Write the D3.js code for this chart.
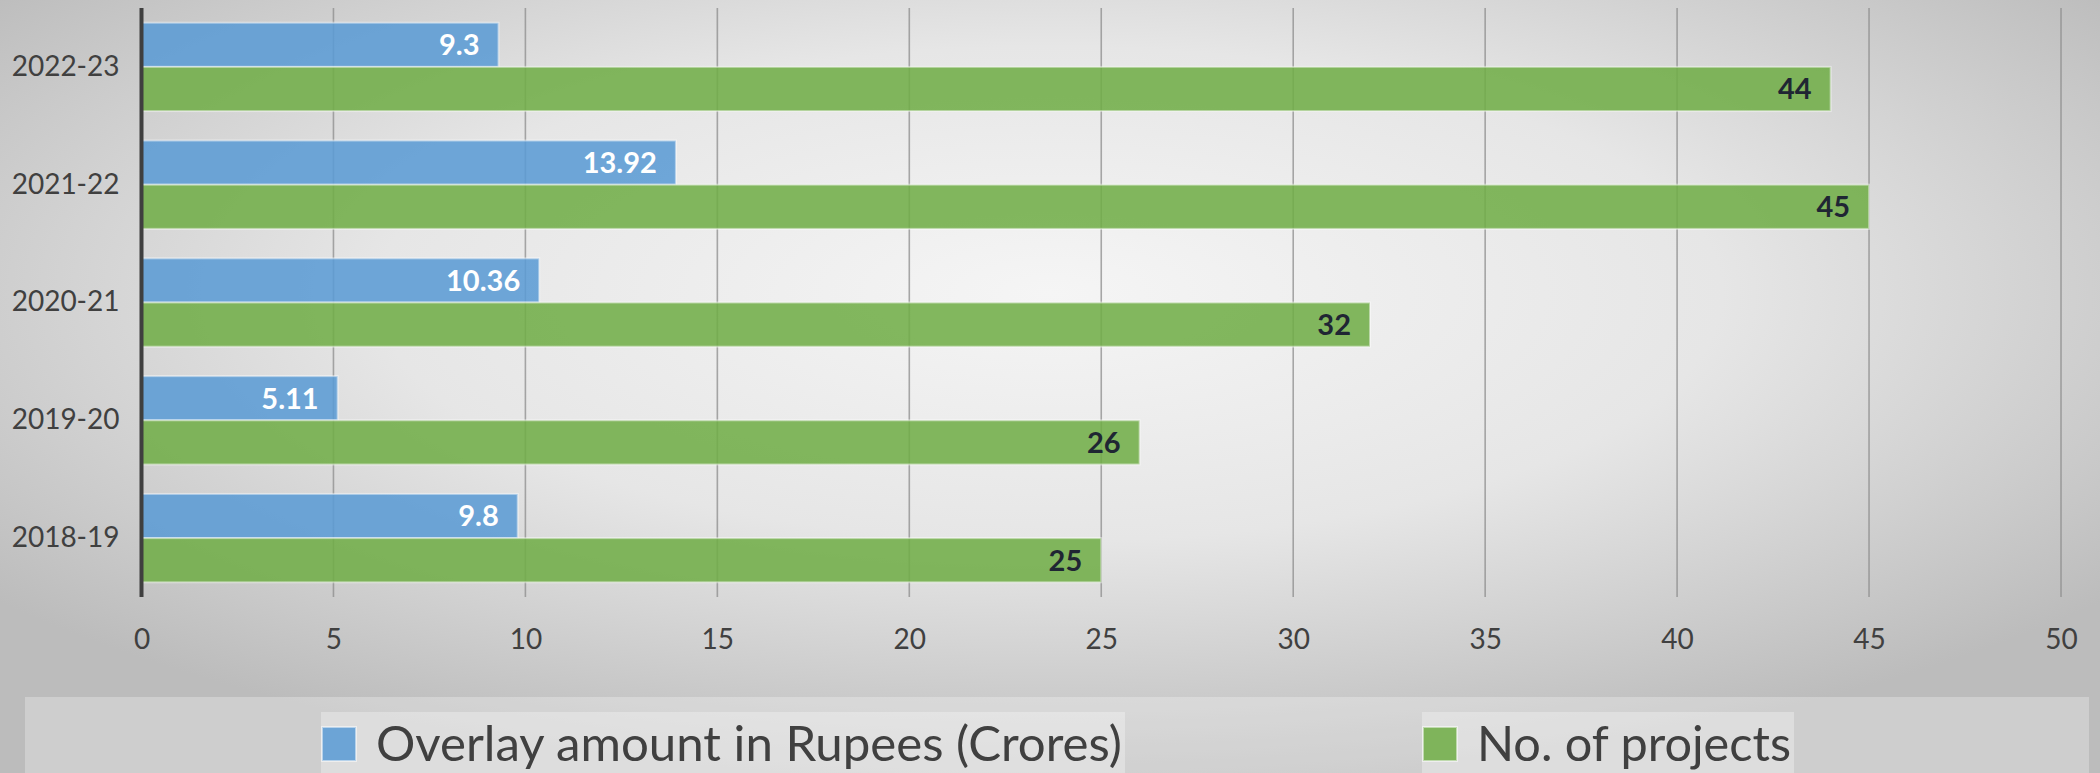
<!DOCTYPE html>
<html>
<head>
<meta charset="utf-8">
<script src="https://cdn.jsdelivr.net/npm/d3@7/dist/d3.min.js"></script>
<style>
  html, body { margin: 0; padding: 0; background: #d8d8d8; }
  svg { display: block; }
  text { font-family: Lato, "Open Sans", "Noto Sans", sans-serif; }
</style>
</head>
<body>
<svg id="chart" width="2100" height="773"></svg>
<script>
// ---- data ----
const categories = ["2018-19", "2019-20", "2020-21", "2021-22", "2022-23"];
const overlayAmount = [9.8, 5.11, 10.36, 13.92, 9.3];
const numProjects = [25, 26, 32, 45, 44];
const seriesNames = ["Overlay amount in Rupees (Crores)", "No. of projects"];
const xTicks = [0, 5, 10, 15, 20, 25, 30, 35, 40, 45, 50];

// ---- layout ----
const W = 2100, H = 773;
const plot = { left: 141.5, right: 2061, top: 8, bottom: 597 };
const colors = { overlay: "#5B9BD5", projects: "#70AD47" };

const svg = d3.select("#chart");
const defs = svg.append("defs");
const rg = defs.append("radialGradient").attr("id", "bg")
  .attr("cx", 0.5).attr("cy", 0.38).attr("r", 0.64);
rg.append("stop").attr("offset", 0).attr("stop-color", "#f5f5f5");
rg.append("stop").attr("offset", 0.5).attr("stop-color", "#e6e6e6");
rg.append("stop").attr("offset", 1).attr("stop-color", "#bcbcbc");
svg.append("rect").attr("width", W).attr("height", H).attr("fill", "url(#bg)");

const rows = categories.map((c, i) => ({ cat: c, overlay: overlayAmount[i], projects: numProjects[i] }));

const x = d3.scaleLinear().domain([0, 50]).range([plot.left, plot.right]);
const y = d3.scaleBand().domain(categories.slice().reverse())
  .range([plot.top, plot.bottom]).paddingInner(0.25).paddingOuter(0.125);
const sub = d3.scaleBand().domain(["overlay", "projects"]).range([0, y.bandwidth()]).padding(0);

// gridlines
svg.append("g").selectAll("line").data(xTicks.filter(t => t > 0)).join("line")
  .attr("x1", d => x(d)).attr("x2", d => x(d))
  .attr("y1", plot.top).attr("y2", plot.bottom)
  .attr("stroke", "#8c8c8c").attr("stroke-opacity", 0.75).attr("stroke-width", 1.6);

// bars
const groups = svg.append("g").selectAll("g").data(rows).join("g")
  .attr("transform", d => `translate(0,${y(d.cat)})`);

["overlay", "projects"].forEach(key => {
  groups.append("rect")
    .attr("x", x(0))
    .attr("y", sub(key))
    .attr("width", d => x(d[key]) - x(0))
    .attr("height", sub.bandwidth())
    .attr("fill", colors[key]).attr("fill-opacity", 0.87)
    .attr("stroke", "#ffffff").attr("stroke-opacity", 0.45).attr("stroke-width", 2);
  groups.append("text")
    .attr("x", d => x(d[key]) - 19)
    .attr("y", sub(key) + sub.bandwidth() / 2)
    .attr("dy", "0.36em")
    .attr("text-anchor", "end")
    .attr("font-size", 29).attr("font-weight", 700)
    .attr("fill", key === "overlay" ? "#ffffff" : "#1f2633")
    .text(d => d[key]);
});

// vertical axis line
svg.append("line").attr("x1", plot.left).attr("x2", plot.left)
  .attr("y1", plot.top).attr("y2", plot.bottom)
  .attr("stroke", "#3f3f3f").attr("stroke-width", 4);

// category labels
const yAxis = d3.axisLeft(y).tickSize(0).tickPadding(22);
const ya = svg.append("g").attr("transform", `translate(${plot.left},0)`).call(yAxis);
ya.select(".domain").remove();
ya.selectAll("text").attr("font-size", 28).attr("fill", "#404040")
  .attr("font-family", 'Lato, "Open Sans", sans-serif');

// x tick labels
const xAxis = d3.axisBottom(x).tickValues(xTicks).tickSize(0).tickPadding(32);
const xa = svg.append("g").attr("transform", `translate(0,${plot.bottom})`).call(xAxis);
xa.select(".domain").remove();
xa.selectAll("text").attr("font-size", 28).attr("fill", "#404040")
  .attr("font-family", 'Lato, "Open Sans", sans-serif');

// legend
svg.append("rect").attr("x", 25).attr("y", 697).attr("width", 2064).attr("height", H - 697)
  .attr("fill", "#ffffff").attr("fill-opacity", 0.28);

const legendItems = [
  { name: seriesNames[0], color: colors.overlay, x0: 321, x1: 1125 },
  { name: seriesNames[1], color: colors.projects, x0: 1422, x1: 1794 }
];
const lg = svg.append("g").selectAll("g").data(legendItems).join("g");
lg.append("rect").attr("x", d => d.x0).attr("y", 712).attr("width", d => d.x1 - d.x0).attr("height", H - 712)
  .attr("fill", "#ffffff").attr("fill-opacity", 0.3);
lg.append("rect").attr("x", d => d.x0 + 1).attr("y", 727).attr("width", 34).attr("height", 34)
  .attr("fill", d => d.color).attr("fill-opacity", 0.87)
  .attr("stroke", "#ffffff").attr("stroke-opacity", 0.5).attr("stroke-width", 2);
lg.append("text").attr("x", d => d.x0 + 55).attr("y", 761)
  .attr("font-size", 44).attr("fill", "#404040")
  .text(d => d.name)
  .each(function(d) {
    const target = d.x1 - (d.x0 + 55) - 3;
    const w = this.getComputedTextLength();
    if (w > 0) {
      const fs = Math.min(50, 44 * target / w);
      d3.select(this).attr("font-size", fs);
    }
  });
</script>
</body>
</html>
